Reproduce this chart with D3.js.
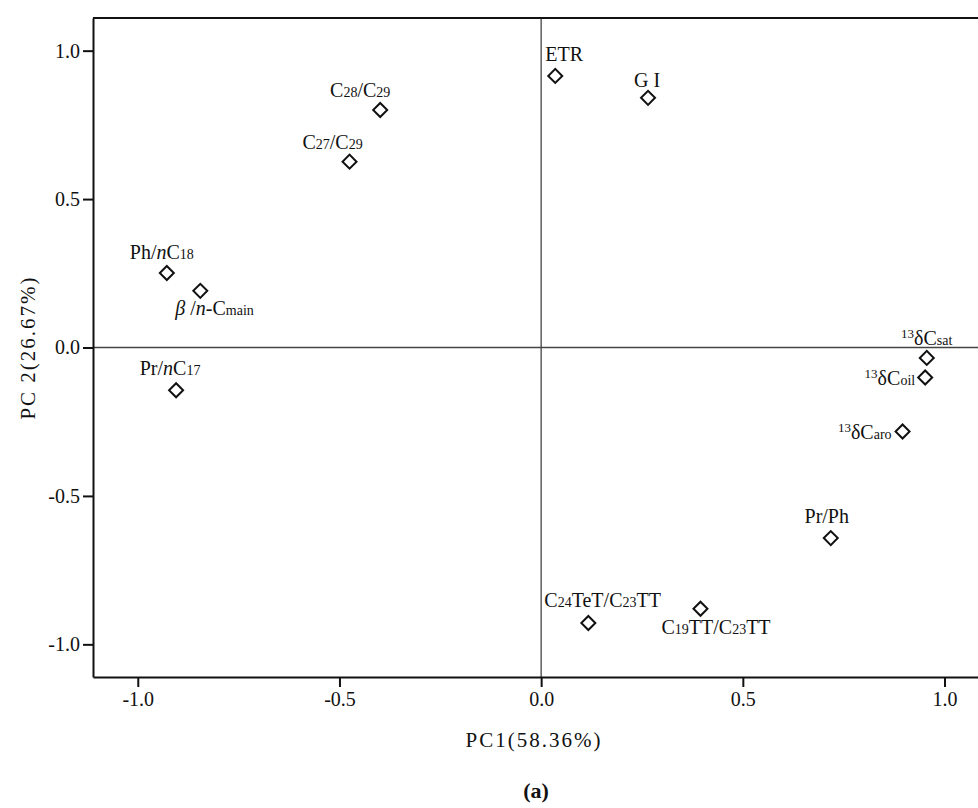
<!DOCTYPE html>
<html>
<head>
<meta charset="utf-8">
<script src="https://cdn.jsdelivr.net/npm/d3@7"></script>
<style>
  body { margin: 0; background: #fff; }
  text { font-family: "Liberation Serif", "Times New Roman", serif; fill: #111; }
</style>
</head>
<body>
<script>
// Datos: cargas de cada variable en PC1 y PC2.
// Etiquetas con marcas: _{..} subíndice, ^{..} superíndice, <i>..</i> cursiva.
const etiquetas = [
  "ETR", "G I", "C_{28}/C_{29}", "C_{27}/C_{29}", "Ph/<i>n</i>C_{18}",
  "<i>β</i> /<i>n</i>-C_{main}", "Pr/<i>n</i>C_{17}", "^{13}δC_{sat}",
  "^{13}δC_{oil}", "^{13}δC_{aro}", "Pr/Ph", "C_{24}TeT/C_{23}TT", "C_{19}TT/C_{23}TT"
];
const pc1 = [0.035, 0.265, -0.399, -0.475, -0.928, -0.845, -0.905, 0.956, 0.952, 0.896, 0.718, 0.117, 0.395];
const pc2 = [0.915, 0.841, 0.800, 0.626, 0.251, 0.191, -0.144, -0.035, -0.101, -0.283, -0.642, -0.928, -0.880];
const ticks = [-1.0, -0.5, 0.0, 0.5, 1.0];
const tituloX = "PC1(58.36%)";
const tituloY = "PC 2(26.67%)";
const subtitulo = "(a)";

// Posición de cada etiqueta respecto a su punto (px) y anclaje.
const posEtiqueta = [
  [-10, -15, "start"], [-1, -11, "middle"], [-20, -13, "middle"], [-17, -13, "middle"],
  [-5, -14, "middle"], [-25, 24, "start"], [-6, -15, "middle"], [0, -13, "middle"],
  [-10, 8, "end"], [-11, 7, "end"], [-4, -15, "middle"], [-44, -16, "start"], [-39, 25, "start"]
];

const WIDTH = 978;
const HEIGHT = 808;
const MARGIN = { top: 18, left: 93, bottom: 131, right: 0 };

const svg = d3.select("body").append("svg")
  .attr("width", WIDTH)
  .attr("height", HEIGHT);

const escalaX = d3.scaleLinear().domain([-1.111, 1.083]).range([MARGIN.left, WIDTH - MARGIN.right]);
const escalaY = d3.scaleLinear().domain([-1.11, 1.11]).range([HEIGHT - MARGIN.bottom, MARGIN.top]);

const datos = etiquetas.map((e, i) => ({ etiqueta: e, x: pc1[i], y: pc2[i], pos: posEtiqueta[i] }));

// Líneas de cero
svg.append("line")
  .attr("x1", escalaX.range()[0]).attr("x2", escalaX.range()[1])
  .attr("y1", escalaY(0)).attr("y2", escalaY(0))
  .attr("stroke", "#444").attr("stroke-width", 1.3);
svg.append("line")
  .attr("x1", escalaX(0)).attr("x2", escalaX(0))
  .attr("y1", escalaY.range()[0]).attr("y2", escalaY.range()[1])
  .attr("stroke", "#444").attr("stroke-width", 1.3);

// Borde superior
svg.append("line")
  .attr("x1", MARGIN.left).attr("x2", WIDTH)
  .attr("y1", MARGIN.top).attr("y2", MARGIN.top)
  .attr("stroke", "#111").attr("stroke-width", 2);

// Ejes
const ejeX = d3.axisBottom(escalaX).tickValues(ticks)
  .tickSize(10).tickSizeOuter(0).tickPadding(5);
const ejeY = d3.axisLeft(escalaY).tickValues(ticks)
  .tickSize(10).tickSizeOuter(0).tickPadding(3);

function estiloEje(g) {
  g.select(".domain").attr("stroke", "#111").attr("stroke-width", 2);
  g.selectAll(".tick line").attr("stroke", "#111").attr("stroke-width", 2);
  g.selectAll(".tick text")
    .attr("font-size", 20)
    .attr("fill", "#111")
    .text((d) => d3.format(".1f")(d).replace("−", "-"));
}

svg.append("g")
  .attr("transform", `translate(0, ${escalaY.range()[0]})`)
  .call(ejeX).call(estiloEje);

svg.append("g")
  .attr("transform", `translate(${MARGIN.left}, 0)`)
  .call(ejeY).call(estiloEje);

// Puntos (rombos)
const rombo = d3.symbol().type(d3.symbolSquare).size(98);
svg.append("g").selectAll("path")
  .data(datos)
  .join("path")
  .attr("d", rombo)
  .attr("transform", (d) => `translate(${escalaX(d.x)}, ${escalaY(d.y)}) rotate(45)`)
  .attr("fill", "#fff")
  .attr("stroke", "#111")
  .attr("stroke-width", 2);

// Etiquetas con subíndices y superíndices
function escribir(texto, cadena) {
  const re = /_\{([^}]*)\}|\^\{([^}]*)\}|<i>(.*?)<\/i>|([^_^<]+)/g;
  let m;
  let pendiente = 0;
  const agregar = (t) => {
    const s = texto.append("tspan").text(t);
    if (pendiente !== 0) { s.attr("dy", pendiente); pendiente = 0; }
    return s;
  };
  while ((m = re.exec(cadena)) !== null) {
    if (m[1] !== undefined) {
      agregar(m[1]).attr("font-size", 14);
    } else if (m[2] !== undefined) {
      pendiente = -7;
      agregar(m[2]).attr("font-size", 13);
      pendiente = 7;
    } else if (m[3] !== undefined) {
      agregar(m[3]).attr("font-style", "italic");
    } else {
      agregar(m[4]);
    }
  }
}

svg.append("g").selectAll("text")
  .data(datos)
  .join("text")
  .attr("x", (d) => escalaX(d.x) + d.pos[0])
  .attr("y", (d) => escalaY(d.y) + d.pos[1])
  .attr("text-anchor", (d) => d.pos[2])
  .attr("font-size", 20)
  .each(function (d) { escribir(d3.select(this), d.etiqueta); });

// Títulos
svg.append("text")
  .attr("x", 534).attr("y", 747)
  .attr("text-anchor", "middle")
  .attr("font-size", 21)
  .attr("letter-spacing", 2)
  .text(tituloX);

svg.append("text")
  .attr("transform", `translate(35, ${escalaY(0)}) rotate(-90)`)
  .attr("text-anchor", "middle")
  .attr("font-size", 21)
  .attr("letter-spacing", 2)
  .text(tituloY);

svg.append("text")
  .attr("x", 536).attr("y", 798)
  .attr("text-anchor", "middle")
  .attr("font-size", 22)
  .attr("font-weight", "bold")
  .text(subtitulo);
</script>
</body>
</html>
